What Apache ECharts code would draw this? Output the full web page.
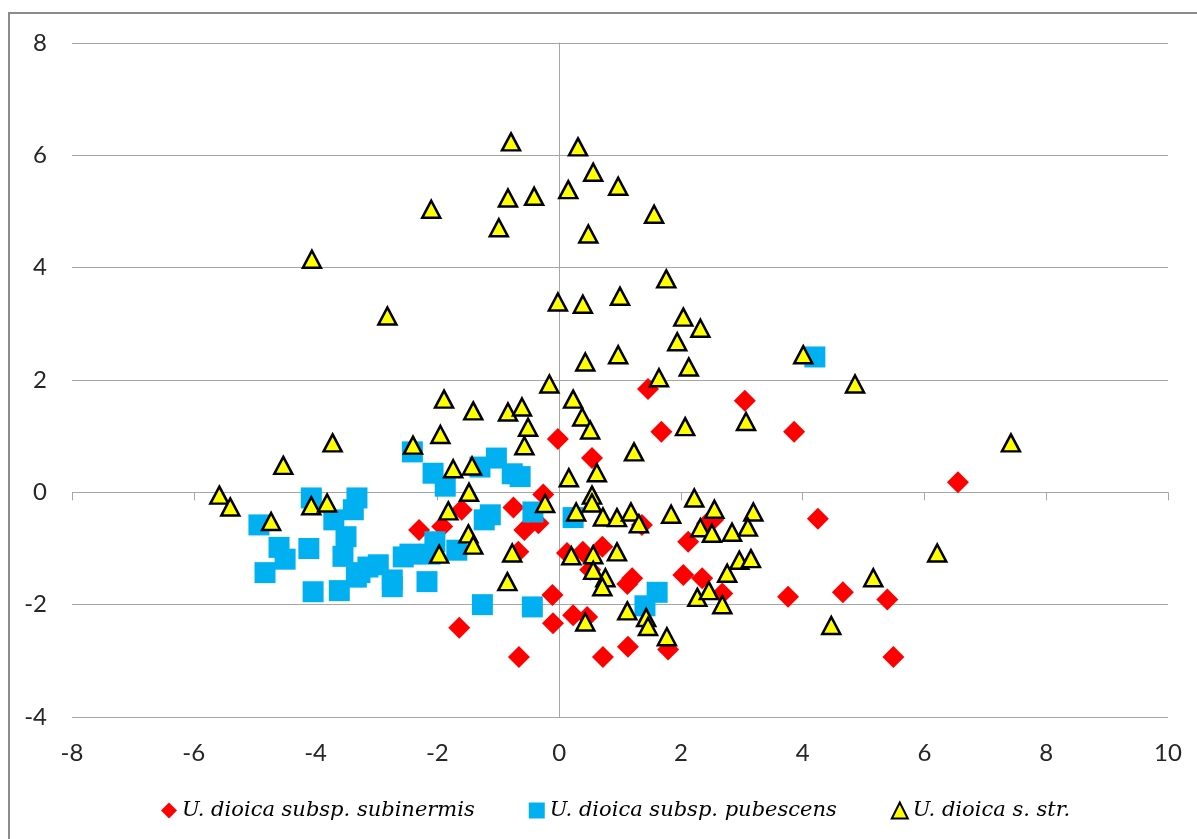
<!DOCTYPE html>
<html>
<head>
<meta charset="utf-8">
<title>Urtica dioica – ordination scatter</title>
<script src="https://cdn.jsdelivr.net/npm/echarts@6/dist/echarts.min.js"></script>
<style>
  html, body { margin: 0; padding: 0; background: #ffffff; }
  #chart { width: 1197px; height: 839px; }
</style>
</head>
<body>
<div id="chart"></div>
<script>
// Axis ranges and ticks
const xMin = -8, xMax = 10, xStep = 2;
const yMin = -4, yMax = 8, yStep = 2;

// Series names (legend entries)
const seriesNames = [
  'U. dioica subsp. subinermis',
  'U. dioica subsp. pubescens',
  'U. dioica s. str.'
];

// U. dioica subsp. subinermis  [axis 1, axis 2]
const subinermis = [
  [-0.02, 0.95], [1.46, 1.84], [1.68, 1.08], [0.54, 0.61], [3.05, 1.63],
  [3.86, 1.08], [6.55, 0.18], [4.25, -0.47], [3.76, -1.86], [4.66, -1.78],
  [5.39, -1.91], [5.49, -2.93], [-1.60, -0.31], [-0.75, -0.27], [-0.26, -0.04],
  [-0.57, -0.67], [-0.34, -0.55], [-2.30, -0.67], [-1.92, -0.61], [-0.67, -1.06],
  [-2.12, -1.08], [-0.11, -1.83], [-1.64, -2.41], [-0.10, -2.33], [-0.66, -2.93],
  [0.23, -2.19], [0.46, -2.22], [1.13, -2.75], [0.72, -2.93], [1.79, -2.80],
  [1.12, -1.63], [1.20, -1.53], [2.12, -0.88], [2.04, -1.47], [2.35, -1.53],
  [2.68, -1.80], [0.39, -1.06], [0.71, -0.97], [0.51, -1.38], [0.13, -1.08],
  [1.36, -0.58], [2.43, -0.55], [2.53, -0.49]
];

// U. dioica subsp. pubescens
const pubescens = [
  [-4.93, -0.58], [-4.83, -1.43], [-4.60, -0.98], [-4.50, -1.19], [-4.11, -1.00],
  [-4.07, -0.10], [-4.04, -1.77], [-3.70, -0.49], [-3.61, -1.75], [-3.55, -1.14],
  [-3.50, -0.79], [-3.32, -0.10], [-3.38, -0.31], [-3.33, -1.51], [-3.27, -1.43],
  [-2.97, -1.29], [-3.14, -1.33], [-2.74, -1.56], [-2.74, -1.68], [-2.45, -1.10],
  [-2.56, -1.15], [-2.41, 0.72], [-2.17, -1.59], [-2.12, -1.10], [-2.07, 0.34],
  [-2.04, -0.88], [-1.87, 0.11], [-1.68, -1.03], [-1.30, 0.45], [-1.23, -0.49],
  [-1.26, -2.00], [-1.13, -0.40], [-1.03, 0.61], [-0.77, 0.33], [-0.64, 0.28],
  [-0.44, -2.04], [-0.43, -0.35], [0.23, -0.45], [1.61, -1.78], [1.41, -2.02],
  [4.20, 2.41]
];

// U. dioica s. str.
const sStr = [
  [-0.79, 6.24], [0.31, 6.15], [0.56, 5.70], [0.97, 5.45], [0.15, 5.39],
  [-0.84, 5.24], [-0.41, 5.27], [-2.10, 5.04], [1.56, 4.95], [-0.99, 4.71],
  [0.48, 4.60], [-4.06, 4.15], [1.76, 3.80], [-2.82, 3.14], [2.04, 3.12],
  [-0.02, 3.39], [0.39, 3.35], [1.00, 3.49], [2.32, 2.92], [1.94, 2.68],
  [0.43, 2.32], [0.97, 2.45], [2.13, 2.23], [4.01, 2.45], [4.86, 1.93],
  [-0.16, 1.93], [1.64, 2.04], [-1.89, 1.66], [-1.41, 1.45], [-0.84, 1.43],
  [-0.61, 1.52], [0.23, 1.66], [0.38, 1.34], [0.51, 1.11], [-0.51, 1.16],
  [-0.57, 0.83], [-1.95, 1.03], [-3.72, 0.88], [-2.40, 0.84], [1.23, 0.72],
  [2.07, 1.17], [3.07, 1.26], [7.42, 0.88], [-4.53, 0.48], [-1.74, 0.42],
  [-1.43, 0.47], [0.16, 0.26], [0.62, 0.35], [-5.58, -0.05], [-5.40, -0.26],
  [-4.73, -0.52], [-4.07, -0.24], [-3.81, -0.19], [-1.48, 0.00], [-1.82, -0.33],
  [-0.23, -0.20], [0.54, -0.05], [0.54, -0.19], [0.28, -0.35], [0.72, -0.44],
  [0.95, -0.45], [1.18, -0.35], [1.31, -0.56], [1.84, -0.39], [2.22, -0.10],
  [2.55, -0.30], [2.32, -0.63], [2.51, -0.73], [2.84, -0.71], [3.19, -0.35],
  [3.10, -0.62], [2.96, -1.21], [3.15, -1.18], [2.76, -1.44], [6.21, -1.08],
  [5.16, -1.52], [4.47, -2.37], [-1.49, -0.74], [-1.41, -0.94], [-1.97, -1.10],
  [-0.77, -1.08], [-0.85, -1.59], [0.20, -1.13], [0.56, -1.11], [0.56, -1.39],
  [0.76, -1.52], [0.71, -1.68], [0.95, -1.06], [1.12, -2.11], [1.43, -2.23],
  [1.46, -2.39], [1.77, -2.57], [0.43, -2.31], [2.27, -1.87], [2.46, -1.75],
  [2.68, -2.00]
];

const gridColor = '#a6a6a6';
const labelFont = { fontFamily: 'Lato, "Open Sans", sans-serif', fontSize: 24, color: '#262626' };

const chart = echarts.init(document.getElementById('chart'), null, { renderer: 'canvas' });

chart.setOption({
  backgroundColor: '#ffffff',
  animation: false,
  graphic: [{
    type: 'rect',
    shape: { x: 9, y: 13, width: 1220, height: 860 },
    style: { fill: null, stroke: '#8c8c8c', lineWidth: 2 },
    silent: true,
    z: -10
  }],
  grid: { left: 72, right: 29, top: 43, bottom: 122 },
  legend: {
    data: seriesNames,
    left: 156,
    top: 795,
    itemGap: 54,
    itemWidth: 16,
    itemHeight: 16,
    textStyle: {
      fontFamily: '"DejaVu Serif", "Liberation Serif", serif',
      fontStyle: 'italic',
      fontSize: 21,
      color: '#000000'
    }
  },
  xAxis: [
    {
      // tick labels along the bottom edge
      type: 'value', min: xMin, max: xMax, interval: xStep,
      position: 'bottom',
      axisLine: { show: false, onZero: false },
      axisTick: { show: false },
      splitLine: { show: false },
      axisLabel: Object.assign({ margin: 24 }, labelFont)
    },
    {
      // horizontal axis crossing at y = 0, with outside ticks
      type: 'value', min: xMin, max: xMax, interval: xStep,
      position: 'bottom',
      axisLine: { show: false, onZero: true },
      axisTick: { show: true, length: 8, lineStyle: { color: gridColor, width: 1 } },
      axisLabel: { show: false },
      splitLine: { show: false }
    }
  ],
  yAxis: [
    {
      type: 'value', min: yMin, max: yMax, interval: yStep,
      position: 'left',
      axisLine: { show: false, onZero: false },
      axisTick: { show: false },
      splitLine: { show: true, lineStyle: { color: gridColor, width: 1 } },
      axisLabel: Object.assign({ margin: 25 }, labelFont)
    },
    {
      // vertical axis crossing at x = 0
      type: 'value', min: yMin, max: yMax, interval: yStep,
      position: 'left',
      axisLine: { show: true, onZero: true, lineStyle: { color: gridColor, width: 1 } },
      axisTick: { show: false },
      axisLabel: { show: false },
      splitLine: { show: false }
    }
  ],
  series: [
    {
      name: seriesNames[0],
      type: 'scatter',
      data: subinermis,
      symbol: 'diamond',
      symbolSize: 22,
      itemStyle: { color: '#ff0000', opacity: 1 },
      z: 2
    },
    {
      name: seriesNames[1],
      type: 'scatter',
      data: pubescens,
      symbol: 'rect',
      symbolSize: 21,
      itemStyle: { color: '#00b0f0', opacity: 1 },
      z: 3
    },
    {
      name: seriesNames[2],
      type: 'scatter',
      data: sStr,
      symbol: 'triangle',
      symbolSize: [18, 17],
      itemStyle: { color: '#ffff00', borderColor: '#000000', borderWidth: 2.5, opacity: 1 },
      z: 4
    }
  ]
});
</script>
</body>
</html>
